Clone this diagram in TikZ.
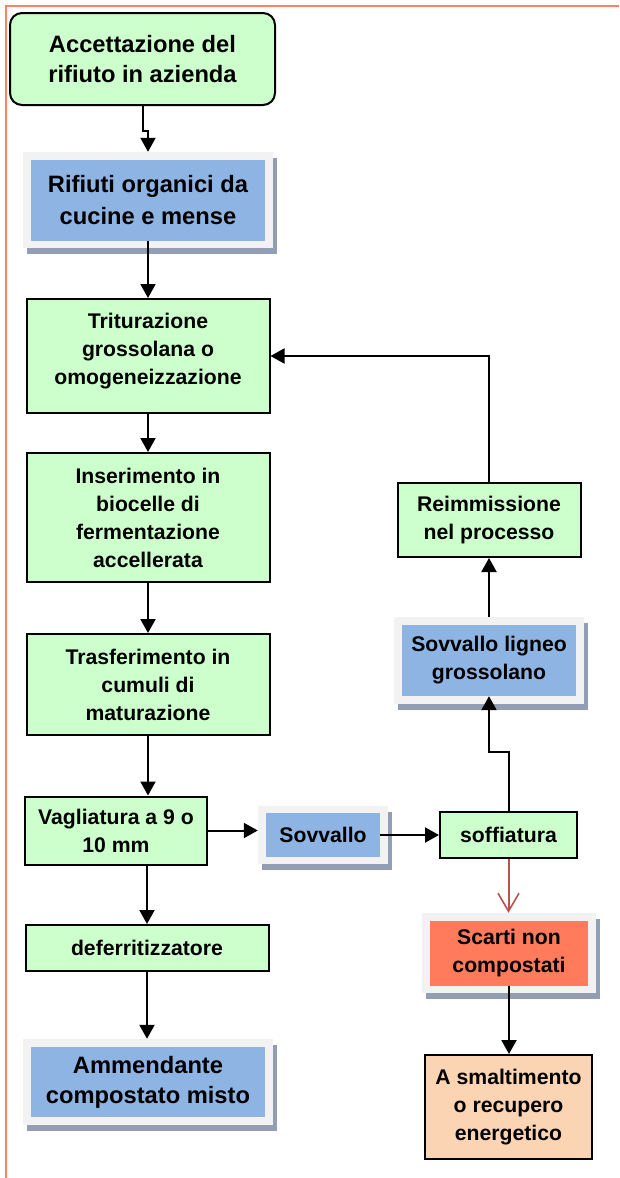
\documentclass[tikz,border=0pt]{standalone}
\usepackage{fontspec}
\setmainfont{Liberation Sans}
\usetikzlibrary{arrows.meta,shadows,calc}

\definecolor{stepgreen}{HTML}{CCFFCC}
\definecolor{outblue}{HTML}{8DB4E2}
\definecolor{framegray}{HTML}{F2F2F2}
\definecolor{shadowblue}{HTML}{919EB3}
\definecolor{wastered}{HTML}{FF7B5C}
\definecolor{peach}{HTML}{FBD4B4}
\definecolor{pageline}{HTML}{FF7F66}
\definecolor{redarrow}{HTML}{C0504D}

\tikzset{
  txtbig/.style={font=\fontsize{23.7}{30}\selectfont\bfseries, align=center},
  txtsmall/.style={font=\fontsize{21.2}{28}\selectfont\bfseries, align=center},
  process/.style={draw=black, line width=2pt, fill=stepgreen, txtsmall, inner sep=0pt},
  outframe/.style={fill=framegray, inner sep=0pt,
    general shadow={fill=shadowblue, shadow xshift=4pt, shadow yshift=-6pt}},
  panel/.style={fill=outblue, inner sep=0pt},
  flow/.style={line width=2pt, -{Triangle[length=14pt,width=15pt]}},
  wasteflow/.style={line width=2pt, draw=redarrow,
    -{Straight Barb[length=18pt,width=21pt,line width=1.6pt]}},
}

\begin{document}
\begin{tikzpicture}[x=1pt,y=-1pt]
\useasboundingbox (0,0) rectangle (619,1178);

% page rule
\draw[pageline, line width=2.2pt] (6,1178) -- (6,6) -- (619,6);

% main column
\node[process, txtbig, rounded corners=12pt, minimum width=265pt, minimum height=92pt]
  (accept) at (142.5,59) {Accettazione del\\rifiuto in azienda};

\node[outframe, minimum width=250pt, minimum height=96pt] (organic) at (148,200) {};
\node[panel, txtbig, font=\fontsize{23.7}{32}\selectfont\bfseries,
  minimum width=234pt, minimum height=81pt] (organic-in) at (organic.center)
  {Rifiuti organici da\\cucine e mense};

\node[process, minimum width=243pt, minimum height=114pt, text depth=14.5pt]
  (shred) at (148,356) {Triturazione\\grossolana o\\omogeneizzazione};

\node[process, minimum width=243pt, minimum height=129pt]
  (biocell) at (148,517.5) {Inserimento in\\biocelle di\\fermentazione\\accellerata};

\node[process, minimum width=243pt, minimum height=101pt]
  (curing) at (148,684.5) {Trasferimento in\\cumuli di\\maturazione};

\node[process, minimum width=182pt, minimum height=68pt]
  (screen) at (116,830.5) {Vagliatura a 9 o\\10 mm};

\node[process, minimum width=243pt, minimum height=46pt]
  (iron) at (147,948) {deferritizzatore};

\node[outframe, minimum width=250pt, minimum height=86pt] (compost) at (148,1082) {};
\node[panel, txtbig, minimum width=234pt, minimum height=70pt]
  (compost-in) at (compost.center) {Ammendante\\compostato misto};

% oversize branch
\node[outframe, minimum width=130pt, minimum height=58pt] (overs) at (323,835) {};
\node[panel, txtsmall, minimum width=114pt, minimum height=44pt]
  (overs-in) at (overs.center) {Sovvallo};

\node[process, minimum width=137pt, minimum height=46pt]
  (blow) at (508.5,835) {soffiatura};

\node[outframe, minimum width=190pt, minimum height=87pt] (wood) at (489,660.5) {};
\node[panel, txtsmall, minimum width=174pt, minimum height=71pt]
  (wood-in) at (wood.center) {Sovvallo ligneo\\grossolano};

\node[process, minimum width=183pt, minimum height=74pt]
  (reuse) at (489,520) {Reimmissione\\nel processo};

\node[outframe, minimum width=174pt, minimum height=80pt] (reject) at (509,953) {};
\node[panel, fill=wastered, txtsmall, minimum width=158pt, minimum height=65pt]
  (reject-in) at (reject.center) {Scarti non\\compostati};

\node[process, fill=peach, minimum width=167pt, minimum height=104pt]
  (disposal) at (508.5,1107) {A smaltimento\\o recupero\\energetico};

% connectors
\coordinate (jog) at ($(accept.south)+(0,25)$);
\draw[flow] (accept.south) -- (jog) -| (organic.north);
\draw[flow] (organic-in.south) -- (shred.north);
\draw[flow] (shred.south) -- (biocell.north);
\draw[flow] (biocell.south) -- (curing.north);
\draw[flow] (curing.south) -- (curing.south |- screen.north);
\draw[flow] (iron.north |- screen.south) -- (iron.north);
\draw[flow] (iron.south) -- (iron.south |- compost.north);
\draw[flow] (screen.east) -- (screen.east -| overs.west);
\draw[flow] (overs-in.east) -- (overs-in.east -| blow.west);
\coordinate (rise) at ($(blow.north)+(0,-59)$);
\draw[flow] (blow.north) -- (rise) -| (wood-in.south);
\draw[flow] (wood.north) -- (reuse.south);
\draw[flow] (reuse.north) |- (shred.east);
\draw[wasteflow] (blow.south) -- (blow.south |- reject.north);
\draw[flow] (reject-in.south) -- (reject-in.south |- disposal.north);
\end{tikzpicture}
\end{document}
